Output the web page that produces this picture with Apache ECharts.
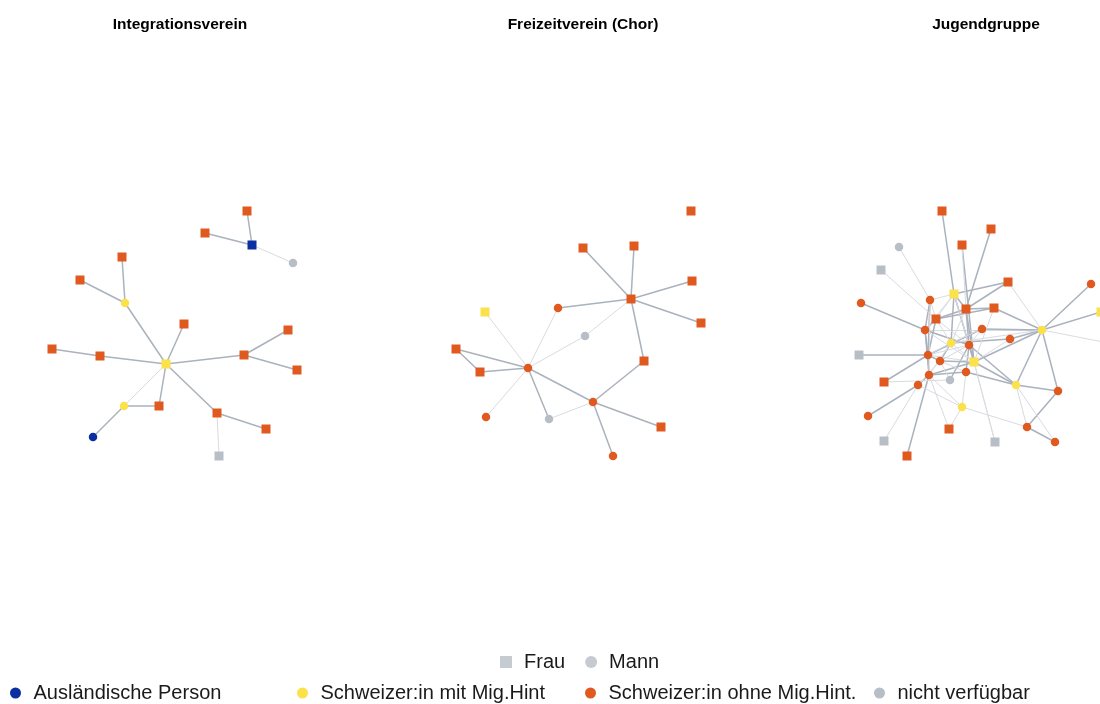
<!DOCTYPE html>
<html>
<head>
<meta charset="utf-8">
<script src="https://cdn.jsdelivr.net/npm/echarts@6/dist/echarts.min.js"></script>
<style>html,body{margin:0;padding:0;background:#fff}#c{width:1100px;height:704px}</style>
</head>
<body>
<div id="c"></div>
<script>
// ---- Panel titles ----
const panelTitles = ['Integrationsverein', 'Freizeitverein (Chor)', 'Jugendgruppe'];

// ---- Legend labels ----
const originLabels = ['Ausländische Person', 'Schweizer:in mit Mig.Hint', 'Schweizer:in ohne Mig.Hint.', 'nicht verfügbar'];
const genderLabels = ['Frau', 'Mann'];

// origin codes: 0 Ausländisch, 1 mit Mig, 2 ohne Mig, 3 n.v. ; gender: 'F' square, 'M' circle
// ---- Panel 1: Integrationsverein (layout coordinates) ----
const p1X = [247, 205, 252, 293, 122, 80, 125, 184, 288, 52, 100, 166, 244, 297, 124, 159, 93, 217, 266, 219];
const p1Y = [171, 193, 205, 223, 217, 240, 263, 284, 290, 309, 316, 324, 315, 330, 366, 366, 397, 373, 389, 416];
const p1Origin = [2, 2, 0, 3, 2, 2, 1, 2, 2, 2, 2, 1, 2, 2, 1, 2, 0, 2, 2, 3];
const p1Gender = ['F','F','F','M','F','F','M','F','F','F','F','F','F','F','M','F','M','F','F','F'];
const p1Edges = [[0,2,1],[1,2,1],[2,3,0],[4,6,1],[5,6,1],[6,11,1],[7,11,1],[9,10,1],[10,11,1],[11,12,1],[12,8,1],[12,13,1],[11,14,0],[14,15,1],[15,11,1],[14,16,1],[11,17,1],[17,18,1],[17,19,0]];

// ---- Panel 2: Freizeitverein (Chor) ----
const p2X = [324, 216, 267, 325, 264, 191, 118, 334, 218, 89, 277, 161, 113, 226, 119, 182, 294, 246];
const p2Y = [171, 208, 206, 241, 259, 268, 272, 283, 296, 309, 321, 328, 332, 362, 377, 379, 387, 416];
const p2Origin = [2, 2, 2, 2, 2, 2, 1, 2, 3, 2, 2, 2, 2, 2, 2, 3, 2, 2];
const p2Gender = ['F','F','F','F','F','M','F','F','M','F','F','M','F','M','M','M','F','M'];
const p2Edges = [[1,4,1],[2,4,1],[3,4,1],[7,4,1],[5,4,1],[4,8,0],[4,10,1],[10,13,1],[6,11,0],[5,11,0],[8,11,0],[9,11,1],[9,12,1],[12,11,1],[11,13,1],[11,14,0],[11,15,1],[15,13,0],[13,16,1],[13,17,1]];

// ---- Panel 3: Jugendgruppe ----
const p3X = [208, 257, 228, 165, 147, 274, 357, 220, 127, 196, 232, 260, 367, 202, 191, 248, 308, 217, 235, 276, 125, 194, 206, 240, 232, 195, 216, 150, 184, 282, 324, 228, 134, 293, 215, 150, 261, 321, 173, 430];
const p3Y = [171, 189, 205, 207, 230, 242, 244, 254, 263, 260, 269, 268, 272, 279, 290, 289, 290, 303, 305, 299, 315, 315, 321, 322, 332, 335, 340, 342, 345, 345, 351, 367, 376, 387, 389, 401, 402, 402, 416, 314];
const p3Origin = [2, 2, 2, 3, 3, 2, 2, 1, 2, 2, 2, 2, 1, 2, 2, 2, 1, 1, 2, 2, 3, 2, 2, 1, 2, 2, 3, 2, 2, 1, 2, 1, 2, 2, 2, 3, 3, 2, 2, 3];
const p3Gender = ['F','F','F','M','F','F','M','F','M','M','F','F','F','F','M','M','M','M','M','M','F','M','M','F','M','M','M','F','M','M','M','M','M','M','F','F','F','M','F','M'];
// [source, target, strong(1)/weak(0)], 1-based node numbers
const p3EdgesRaw = [
  [1,8,1],[2,11,1],[3,24,1],[6,8,1],[7,17,1],[13,17,1],[9,15,1],[12,17,1],[12,14,1],[15,17,0],
  [16,22,1],[21,22,1],[28,22,1],[33,29,1],[39,26,1],[30,24,1],[30,31,1],[30,19,1],[34,31,1],[34,38,1],
  [25,30,1],[17,24,1],[17,30,1],[17,31,1],[8,18,1],[8,24,1],[19,24,1],[22,23,1],[22,26,1],[26,29,1],
  [15,22,1],[14,15,1],[11,19,1],[19,25,1],[10,22,1],[26,24,1],[16,17,1],[20,17,1],[6,11,1],[12,11,1],
  [23,24,1],[27,19,1],[15,19,1],[18,23,1],[20,18,1],[11,24,1],[8,11,1],[14,11,1],[26,25,1],
  [10,15,1],[15,26,1],[14,22,1],
  [3,11,0],[4,10,0],[5,14,0],[6,17,0],[17,40,0],[17,18,0],[28,27,0],[36,29,0],[35,26,0],[35,32,0],
  [32,25,0],[32,34,0],[32,29,0],[37,24,0],[30,34,0],[30,38,0],[8,10,0],[8,14,0],[10,14,0],
  [14,18,0],[18,22,0],[18,24,0],[23,25,0],[22,24,0],[11,18,0],[14,19,0],[16,18,0],[8,19,0],
  [12,24,0],[20,24,0],[29,23,0],[27,23,0],[26,32,0],[10,26,0],[8,15,0],[16,19,0],[24,37,0],
  [22,19,0],[18,26,0],[15,24,0],[23,19,0]
];
const p3Edges = p3EdgesRaw.map(e => [e[0]-1, e[1]-1, e[2]]);

// ---- Styling ----
const originColors = ['#0b2ea3', '#fbe14a', '#e0591f', '#b8bec6'];
const strongEdge = {color: '#aab2bd', width: 1.5, opacity: 1, curveness: 0};
const weakEdge = {color: '#d8dbe0', width: 1, opacity: 1, curveness: 0};
const FONT = '"Liberation Sans", Arial, sans-serif';

const panelLeft = [0, 367, 734];
const panelW = [367, 367, 366];
const panels = [
  {x: p1X, y: p1Y, o: p1Origin, g: p1Gender, e: p1Edges},
  {x: p2X, y: p2Y, o: p2Origin, g: p2Gender, e: p2Edges},
  {x: p3X, y: p3Y, o: p3Origin, g: p3Gender, e: p3Edges}
];
const titleCenters = [175, 578, 981];

const categories = originLabels.map((n, i) => ({name: n, itemStyle: {color: originColors[i]}}));

const grids = [], xAxes = [], yAxes = [], series = [], titles = [];
panels.forEach((p, i) => {
  grids.push({left: panelLeft[i], top: 40, width: panelW[i], height: 600, containLabel: false});
  xAxes.push({type: 'value', gridIndex: i, min: 0, max: panelW[i], show: false});
  yAxes.push({type: 'value', gridIndex: i, min: 0, max: 600, inverse: true, show: false});
  titles.push({text: panelTitles[i], left: titleCenters[i], top: 12, textAlign: 'center',
    textStyle: {fontFamily: FONT, fontSize: 15.5, fontWeight: 'bold', color: '#000'}});
  series.push({
    type: 'graph', layout: 'none', coordinateSystem: 'cartesian2d', xAxisIndex: i, yAxisIndex: i,
    categories: categories, silent: true, animation: false,
    data: p.x.map((xv, k) => ({
      name: 'p' + i + 'n' + k,
      value: [xv, p.y[k]],
      category: p.o[k],
      symbol: p.g[k] === 'F' ? 'rect' : 'circle',
      symbolSize: p.g[k] === 'F' ? 9 : 8.5
    })),
    links: p.e.map(e => ({source: e[0], target: e[1], lineStyle: e[2] ? strongEdge : weakEdge})),
    lineStyle: weakEdge,
    label: {show: false},
    emphasis: {disabled: true}
  });
});

// legend-only series for gender shapes
genderLabels.forEach((n, i) => {
  series.push({type: 'scatter', name: n, xAxisIndex: 0, yAxisIndex: 0, data: [],
    symbol: i === 0 ? 'rect' : 'circle', itemStyle: {color: '#b8bec6'}});
});

const legTxt = {fontFamily: FONT, fontSize: 20, color: '#1a1a1a', padding: [0, 0, 0, 7]};
const legends = [
  {data: [{name: 'Frau', icon: 'rect'}, {name: 'Mann', icon: 'circle'}], left: 500, top: 652, padding: 0,
   itemWidth: 12, itemHeight: 12, itemGap: 20, textStyle: legTxt, selectedMode: false}
];
const row2Left = [10, 297, 585, 874];
originLabels.forEach((n, i) => {
  legends.push({data: [{name: n, icon: 'circle'}], left: row2Left[i], top: 683, padding: 0,
    itemWidth: 12, itemHeight: 11, textStyle: legTxt, selectedMode: false});
});

const chart = echarts.init(document.getElementById('c'), null, {renderer: 'canvas'});
chart.setOption({
  backgroundColor: '#fff',
  animation: false,
  title: titles,
  grid: grids,
  xAxis: xAxes,
  yAxis: yAxes,
  legend: legends,
  series: series
});
</script>
</body>
</html>
